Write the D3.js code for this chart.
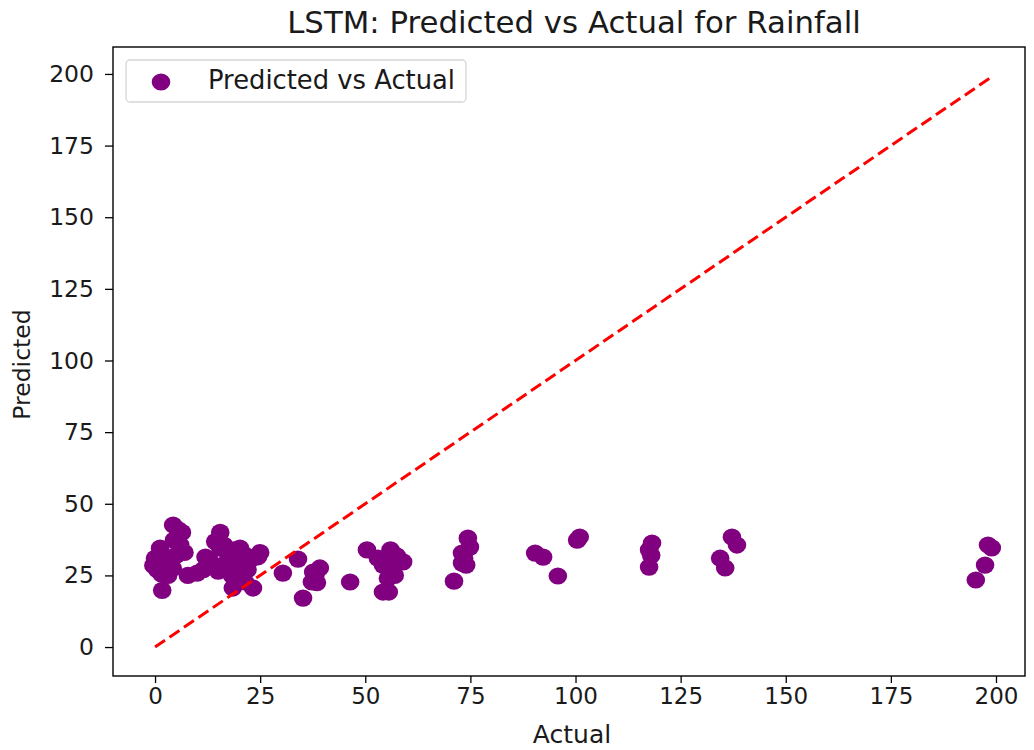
<!DOCTYPE html>
<html>
<head>
<meta charset="utf-8">
<script src="https://cdn.jsdelivr.net/npm/d3@7"></script>
<style>
  body { margin: 0; background: #fff; }
  svg { display: block; font-family: "DejaVu Sans", sans-serif; }
</style>
</head>
<body>
<svg id="chart" width="1034" height="750"></svg>
<script>
// ---- data ----
const actual = [
  0.0, 0.5, -0.4, 1.2, 2.4, 1.7, 1.5, 3.1, 4.3, 5.5, 6.4, 4.5, 6.0, 5.0, 3.6, 7.0, 4.2, 7.8,
  10.0, 11.5, 12.0, 14.0, 13.0, 15.5, 15.5, 14.3, 16.4, 17.8, 17.4, 19.0, 20.2, 19.7, 20.7,
  18.3, 21.4, 22.6, 25.0, 24.5, 16.0, 18.5, 21.4, 23.3, 22.0, 15.0,
  30.4, 34.0, 35.2, 37.3, 38.5, 37.6, 39.2, 38.2, 46.4, 50.4, 53.0, 54.2, 55.4, 54.2, 55.6,
  56.0, 57.0, 57.5, 59.0, 56.5,
  73.0, 74.4, 74.9, 73.0, 74.0, 71.1, 73.5,
  90.4, 92.3, 95.8, 100.4, 101.0,
  118.2, 117.5, 118.0, 117.5,
  137.2, 138.4, 134.4, 135.6,
  198.1, 199.0, 197.4, 195.2
];
const predicted = [
  31.0, 27.0, 28.5, 34.5, 30.4, 19.8, 25.5, 25.0, 42.6, 41.0, 40.0, 37.3, 35.6, 32.0, 29.7, 33.0, 27.5, 25.0,
  25.8, 27.0, 31.4, 28.6, 30.2, 40.0, 34.5, 36.8, 35.6, 33.0, 30.4, 33.9, 34.5, 30.4, 28.6,
  25.0, 32.1, 30.4, 33.0, 31.5, 27.5, 20.6, 22.7, 20.6, 27.0, 26.5,
  25.8, 30.7, 17.1, 22.7, 22.5, 26.2, 27.6, 25.5, 22.7, 33.9, 31.0, 28.6, 24.0, 19.2, 19.2,
  33.9, 25.0, 31.8, 29.7, 27.5,
  32.8, 38.0, 34.9, 29.3, 28.6, 23.0, 31.0,
  32.8, 31.4, 24.8, 37.3, 38.4,
  36.3, 33.9, 32.0, 27.9,
  38.4, 35.6, 31.0, 27.6,
  35.6, 34.6, 28.6, 23.4
];
const diagonalEnds = [0, 198.6];
const xTicks = [0, 25, 50, 75, 100, 125, 150, 175, 200];
const yTicks = [0, 25, 50, 75, 100, 125, 150, 175, 200];
const titleText = "LSTM: Predicted vs Actual for Rainfall";
const xLabel = "Actual";
const yLabel = "Predicted";
const legendLabel = "Predicted vs Actual";

// ---- layout ----
const svg = d3.select("#chart");
const mLeft = 113, mRight = 1025, mTop = 47, mBottom = 676;

const x = d3.scaleLinear().domain([-10, 206.9]).range([mLeft, mRight]);
const y = d3.scaleLinear().domain([-10.1, 209.4]).range([mBottom, mTop]);

// axes frame
svg.append("rect")
  .attr("x", mLeft).attr("y", mTop)
  .attr("width", mRight - mLeft).attr("height", mBottom - mTop)
  .attr("fill", "none").attr("stroke", "#000").attr("stroke-width", 1.4);

// x axis
const xAxis = svg.append("g")
  .attr("transform", `translate(0,${mBottom})`)
  .call(d3.axisBottom(x).tickValues(xTicks).tickSize(7).tickPadding(5).tickFormat(d3.format("d")));
xAxis.select(".domain").remove();
xAxis.selectAll("line").attr("stroke", "#000").attr("stroke-width", 1.3);
xAxis.selectAll("text").attr("font-size", 23).attr("fill", "#1a1a1a")
  .attr("font-family", "DejaVu Sans");

// y axis
const yAxis = svg.append("g")
  .attr("transform", `translate(${mLeft},0)`)
  .call(d3.axisLeft(y).tickValues(yTicks).tickSize(8).tickPadding(11).tickFormat(d3.format("d")));
yAxis.select(".domain").remove();
yAxis.selectAll("line").attr("stroke", "#000").attr("stroke-width", 1.3);
yAxis.selectAll("text").attr("font-size", 23.5).attr("fill", "#1a1a1a")
  .attr("font-family", "DejaVu Sans");

// points
const pts = actual.map((a, i) => ({ a, p: predicted[i] }));
svg.append("g").selectAll("ellipse")
  .data(pts).join("ellipse")
  .attr("cx", d => x(d.a)).attr("cy", d => y(d.p))
  .attr("rx", 9.3).attr("ry", 8.6)
  .attr("fill", "#800080");

// diagonal reference line
svg.append("line")
  .attr("x1", x(diagonalEnds[0])).attr("y1", y(diagonalEnds[0]))
  .attr("x2", x(diagonalEnds[1])).attr("y2", y(diagonalEnds[1]))
  .attr("stroke", "#ff0000").attr("stroke-width", 3)
  .attr("stroke-dasharray", "12,5.5");

// title & labels
svg.append("text").attr("x", (mLeft + mRight) / 2 + 5).attr("y", 33)
  .attr("text-anchor", "middle").attr("font-size", 30.8).attr("fill", "#1a1a1a")
  .text(titleText);
svg.append("text").attr("x", (mLeft + mRight) / 2 + 3).attr("y", 743)
  .attr("text-anchor", "middle").attr("font-size", 25).attr("fill", "#1a1a1a")
  .text(xLabel);
svg.append("text")
  .attr("transform", `translate(30,${(mTop + mBottom) / 2 + 3}) rotate(-90)`)
  .attr("text-anchor", "middle").attr("font-size", 23.5).attr("fill", "#1a1a1a")
  .text(yLabel);

// legend
const lg = svg.append("g");
lg.append("rect").attr("x", 126).attr("y", 60).attr("width", 340).attr("height", 42)
  .attr("rx", 4).attr("fill", "#fff").attr("fill-opacity", 0.8)
  .attr("stroke", "#d6d6d6").attr("stroke-width", 1.3);
lg.append("ellipse").attr("cx", 161).attr("cy", 82).attr("rx", 9.3).attr("ry", 8.6)
  .attr("fill", "#800080");
lg.append("text").attr("x", 208).attr("y", 89).attr("font-size", 25.8).attr("fill", "#1a1a1a")
  .text(legendLabel);
</script>
</body>
</html>
